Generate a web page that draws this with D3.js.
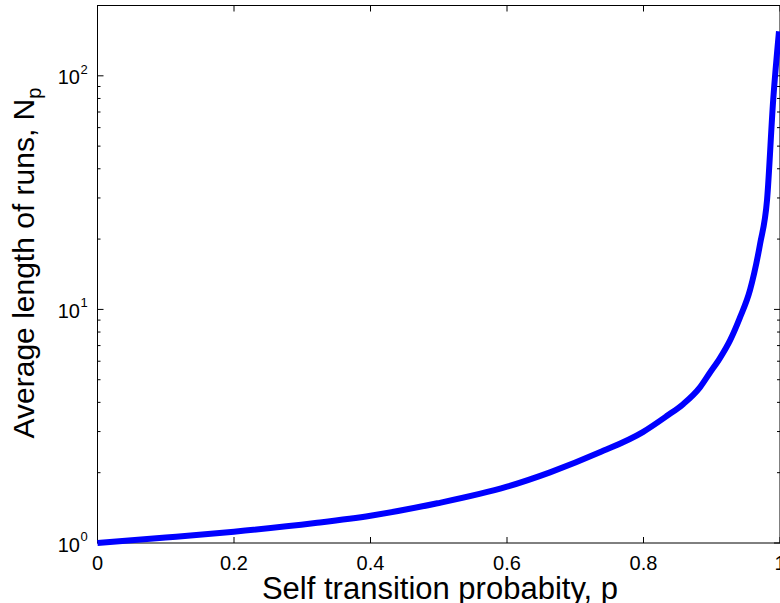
<!DOCTYPE html>
<html>
<head>
<meta charset="utf-8">
<script src="https://cdn.jsdelivr.net/npm/d3@7"></script>
<style>
  body { margin: 0; background: #fff; }
  svg { display: block; font-family: "Liberation Sans", Arial, Helvetica, sans-serif; }
</style>
</head>
<body>
<svg id="chart" width="780" height="603"></svg>
<script>
// values (self transition probability vs average run length)
const pValues = [0, 0.1, 0.2, 0.319, 0.4, 0.498, 0.6, 0.663, 0.736, 0.799, 0.834, 0.858, 0.883, 0.897, 0.912, 0.927, 0.941, 0.956, 0.971, 0.981, 0.990, 0.9985];
const runLengths = [1.0, 1.055, 1.118, 1.218, 1.309, 1.479, 1.742, 2.007, 2.444, 2.985, 3.495, 3.93, 4.65, 5.34, 6.19, 7.39, 9.18, 12.09, 19.2, 29.4, 78.6, 155];
const xTicks = [0, 0.2, 0.4, 0.6, 0.8, 1];
const yDecades = [1, 10, 100];
const yExponents = ["0", "1", "2"];

const svg = d3.select('#chart');

// plot box edges (note: "top" is taken by window.top)
var pLeft = 97.5, pRight = 780, pTop = 5.5, pBottom = 543;

var x = d3.scaleLinear().domain([0, 1]).range([pLeft, pRight]);
var y = d3.scaleLog().domain([1, 200]).range([pBottom, pTop]);

// minor ticks on the log axis: 2..9 of each decade
var minor = [];
yDecades.forEach(function (d) {
    for (var k = 2; k <= 9; k++) {
        if (d * k <= 200) minor.push(d * k);
    }
});

var axes = svg.append('g');

// box
axes.append('rect')
    .attr('x', pLeft)
    .attr('y', pTop)
    .attr('width', pRight - pLeft)
    .attr('height', pBottom - pTop)
    .attr('fill', 'none')
    .attr('stroke', '#000')
    .attr('stroke-width', 1);

// x ticks, bottom and top, pointing inward
xTicks.forEach(function (t) {
    axes.append('line')
        .attr('x1', x(t)).attr('x2', x(t))
        .attr('y1', pBottom).attr('y2', pBottom - 6)
        .attr('stroke', '#000');
    axes.append('line')
        .attr('x1', x(t)).attr('x2', x(t))
        .attr('y1', pTop).attr('y2', pTop + 6)
        .attr('stroke', '#000');
    axes.append('text')
        .attr('x', x(t))
        .attr('y', pBottom + 27)
        .attr('text-anchor', 'middle')
        .attr('font-size', 20)
        .text(d3.format('~g')(t));
});

// y major ticks and labels
yDecades.forEach(function (d, i) {
    axes.append('line')
        .attr('x1', pLeft).attr('x2', pLeft + 6)
        .attr('y1', y(d)).attr('y2', y(d))
        .attr('stroke', '#000');
    axes.append('line')
        .attr('x1', pRight).attr('x2', pRight - 6)
        .attr('y1', y(d)).attr('y2', y(d))
        .attr('stroke', '#000');
    axes.append('text')
        .attr('x', 80)
        .attr('y', y(d) + 8.5)
        .attr('text-anchor', 'end')
        .attr('font-size', 20)
        .text('10');
    axes.append('text')
        .attr('x', 80.5)
        .attr('y', y(d) - 2)
        .attr('font-size', 13)
        .text(yExponents[i]);
});

// y minor ticks
minor.forEach(function (m) {
    axes.append('line')
        .attr('x1', pLeft).attr('x2', pLeft + 3)
        .attr('y1', y(m)).attr('y2', y(m))
        .attr('stroke', '#000');
    axes.append('line')
        .attr('x1', pRight).attr('x2', pRight - 3)
        .attr('y1', y(m)).attr('y2', y(m))
        .attr('stroke', '#000');
});

// axis titles
svg.append('text')
    .attr('x', 440)
    .attr('y', 599)
    .attr('text-anchor', 'middle')
    .attr('font-size', 31)
    .text('Self transition probabity, p');

var ylab = svg.append('text')
    .attr('transform', 'translate(34,263) rotate(-90)')
    .attr('text-anchor', 'middle')
    .attr('font-size', 30);
ylab.append('tspan').text('Average length of runs, N');
ylab.append('tspan').attr('font-size', 20).attr('dy', 7).text('p');

// the curve
var line = d3.line()
    .x(function (d, i) { return x(pValues[i]); })
    .y(function (d, i) { return y(runLengths[i]); })
    .curve(d3.curveMonotoneX);

svg.append('path')
    .attr('d', line(runLengths))
    .attr('fill', 'none')
    .attr('stroke', '#0000ff')
    .attr('stroke-width', 6);
</script>
</body>
</html>
